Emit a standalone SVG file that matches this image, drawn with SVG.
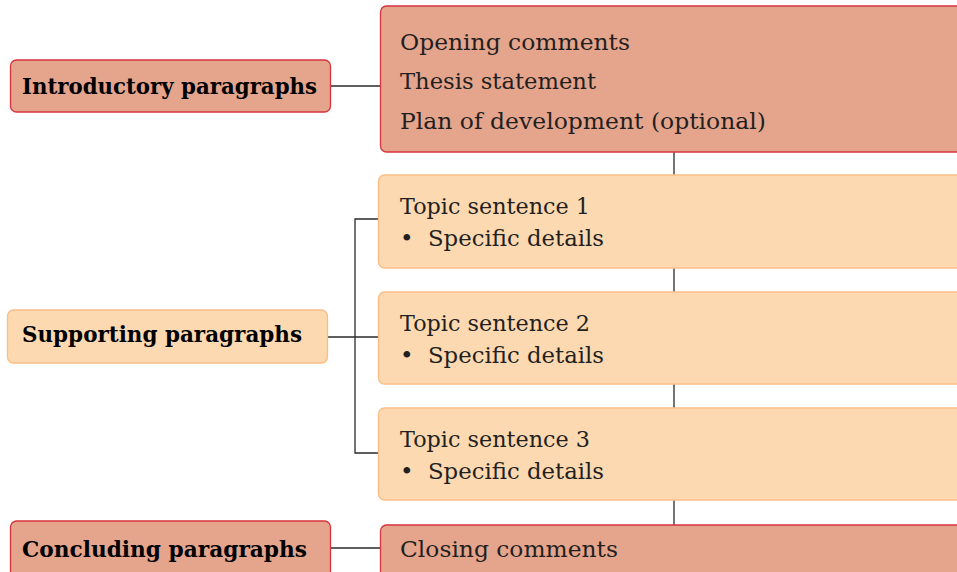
<svg xmlns="http://www.w3.org/2000/svg" width="957" height="572" viewBox="0 0 957 572">
<style>
.dark{fill:#E5A58D;stroke:#D6343E;stroke-width:1.3}
.light{fill:#FCD9B1;stroke:#F8BE86;stroke-width:1.3}
.t{font-family:"DejaVu Serif","Liberation Serif",serif;font-size:23px;fill:#231F20}
.b{font-family:"DejaVu Serif","Liberation Serif",serif;font-size:22px;font-weight:bold;fill:#000}
.c{stroke:#2a2a2a;stroke-width:1.3;fill:none}
</style>
<rect width="957" height="572" fill="#fff"/>
<g id="connectors">
<line class="c" x1="330" y1="86" x2="380" y2="86"/>
<line class="c" x1="674" y1="152" x2="674" y2="175"/>
<line class="c" x1="674" y1="268" x2="674" y2="292"/>
<line class="c" x1="674" y1="384" x2="674" y2="408"/>
<line class="c" x1="674" y1="500" x2="674" y2="525"/>
<polyline class="c" points="378,219 355,219 355,453 378,453"/>
<line class="c" x1="327" y1="337" x2="378" y2="337"/>
<line class="c" x1="330" y1="548" x2="380" y2="548"/>
</g>
<g id="intro-label">
<rect class="dark" x="10.5" y="60" width="320" height="52" rx="6"/>
<text class="b" x="22" y="94" textLength="295" lengthAdjust="spacingAndGlyphs">Introductory paragraphs</text>
</g>
<g id="intro-content">
<rect class="dark" x="380.5" y="6" width="590" height="146" rx="6"/>
<text class="t" x="400" y="50" textLength="230" lengthAdjust="spacingAndGlyphs">Opening comments</text>
<text class="t" x="400" y="89" textLength="196" lengthAdjust="spacingAndGlyphs">Thesis statement</text>
<text class="t" x="400" y="129" textLength="366" lengthAdjust="spacingAndGlyphs">Plan of development (optional)</text>
</g>
<g id="supporting-label">
<rect class="light" x="7.5" y="310" width="320" height="53" rx="6"/>
<text class="b" x="22" y="342" textLength="280" lengthAdjust="spacingAndGlyphs">Supporting paragraphs</text>
</g>
<g id="topic1">
<rect class="light" x="378.5" y="175" width="590" height="93" rx="6"/>
<text class="t" x="400" y="214" textLength="190" lengthAdjust="spacingAndGlyphs">Topic sentence 1</text>
<text class="t" y="246"><tspan x="400">•</tspan><tspan x="428" textLength="176" lengthAdjust="spacingAndGlyphs">Specific details</tspan></text>
</g>
<g id="topic2">
<rect class="light" x="378.5" y="292" width="590" height="92" rx="6"/>
<text class="t" x="400" y="331" textLength="190" lengthAdjust="spacingAndGlyphs">Topic sentence 2</text>
<text class="t" y="363"><tspan x="400">•</tspan><tspan x="428" textLength="176" lengthAdjust="spacingAndGlyphs">Specific details</tspan></text>
</g>
<g id="topic3">
<rect class="light" x="378.5" y="408" width="590" height="92" rx="6"/>
<text class="t" x="400" y="447" textLength="190" lengthAdjust="spacingAndGlyphs">Topic sentence 3</text>
<text class="t" y="479"><tspan x="400">•</tspan><tspan x="428" textLength="176" lengthAdjust="spacingAndGlyphs">Specific details</tspan></text>
</g>
<g id="concluding-label">
<rect class="dark" x="10.5" y="521" width="320" height="70" rx="6"/>
<text class="b" x="22" y="557" textLength="285" lengthAdjust="spacingAndGlyphs">Concluding paragraphs</text>
</g>
<g id="closing-content">
<rect class="dark" x="380.5" y="525" width="590" height="70" rx="6"/>
<text class="t" x="400" y="557" textLength="218" lengthAdjust="spacingAndGlyphs">Closing comments</text>
</g>
</svg>
